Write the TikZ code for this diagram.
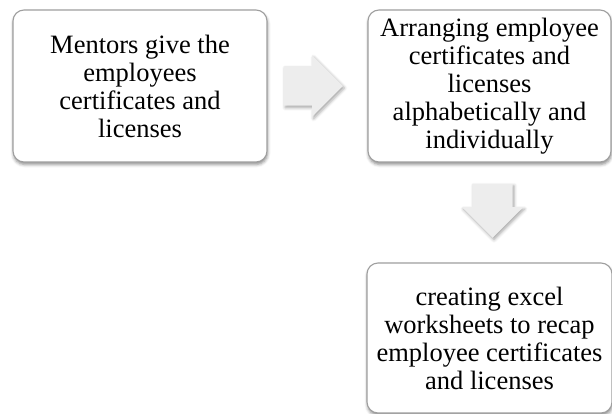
\documentclass[tikz,border=0pt]{standalone}
\usepackage{fontspec}
\setmainfont{Liberation Serif}
\tikzset{>=latex}
\usetikzlibrary{positioning,shapes.arrows,shadows.blur}
\tikzset{
  stepbox/.style={draw=gray!75, line width=1.1bp, rounded corners=11bp, fill=white,
    align=center, inner sep=0pt, font=\fontsize{26.5bp}{28bp}\selectfont,
    blur shadow={shadow xshift=0.5bp, shadow yshift=-2.5bp, shadow blur radius=3bp, shadow opacity=45}},
  blockarrow/.style={single arrow, draw=none, fill=gray!14, inner xsep=0pt, inner ysep=19.5bp,
    single arrow head extend=11bp,
    blur shadow={shadow xshift=1.5bp, shadow yshift=-2bp, shadow blur radius=3bp, shadow opacity=35}}
}
\begin{document}
\begin{tikzpicture}
  \useasboundingbox (0,0) rectangle (612bp,-414bp);
  \node[stepbox, minimum width=254bp, minimum height=152bp] (n1) at (140bp,-86bp)
    {Mentors give the\\employees\\certificates and\\licenses};
  \node[stepbox, minimum width=243bp, minimum height=152bp, right of=n1, node distance=349.5bp] (n2)
    {Arranging employee\\certificates and\\licenses\\alphabetically and\\individually};
  \node[stepbox, minimum width=245bp, minimum height=150bp, below of=n2, node distance=252bp] (n3)
    {creating excel\\worksheets to recap\\employee certificates\\and licenses};
  % block arrows between the steps
  \node[blockarrow, minimum height=59bp, right=16bp of n1] (a1) {};
  \node[blockarrow, minimum height=54bp, shape border rotate=270, inner xsep=20bp, inner ysep=0pt,
    single arrow head extend=10.5bp, below=21bp of n2, xshift=3bp] (a2) {};
\end{tikzpicture}
\end{document}
